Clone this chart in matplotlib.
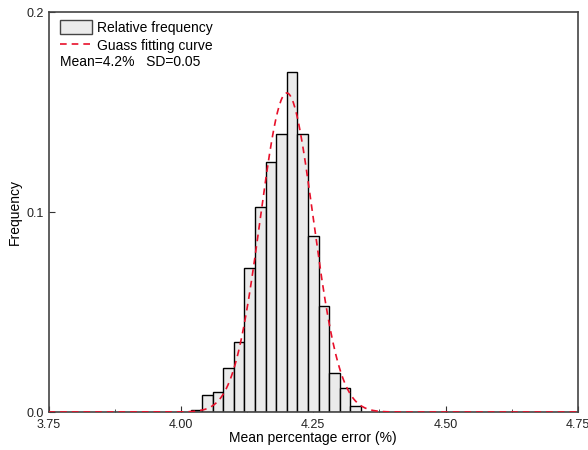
import numpy as np
import matplotlib
matplotlib.use("Agg")
import matplotlib.pyplot as plt
from matplotlib.patches import Patch
from matplotlib.lines import Line2D
from matplotlib.ticker import MultipleLocator

plt.rcParams['font.family'] = ['Liberation Sans', 'DejaVu Sans']

# Histogram data (relative frequency), bin edges 4.02 .. 4.34, width 0.02
bin_left = [4.02, 4.04, 4.06, 4.08, 4.10, 4.12, 4.14, 4.16,
            4.18, 4.20, 4.22, 4.24, 4.26, 4.28, 4.30, 4.32]
rel_freq = [0.001, 0.0087, 0.0099, 0.0219, 0.0349, 0.072, 0.1023, 0.125,
            0.139, 0.170, 0.139, 0.0882, 0.053, 0.0197, 0.0119, 0.0032]
bin_width = 0.02

# Gaussian fit parameters (from legend)
fit_mean = 4.2
fit_sd = 0.05

fig = plt.figure(figsize=(5.88, 4.5), dpi=100)
ax = fig.add_axes([0.0825, 0.0844, 0.9005, 0.8886])

ax.bar(bin_left, rel_freq, width=bin_width, align='edge',
       facecolor='#ebebeb', edgecolor='black', linewidth=1.0, zorder=2)

xs = np.linspace(3.75, 4.75, 600)
ys = bin_width / (fit_sd * np.sqrt(2 * np.pi)) * np.exp(-(xs - fit_mean) ** 2 / (2 * fit_sd ** 2))
ax.plot(xs, ys, color='#e8102a', linestyle=(0, (4, 3)), linewidth=1.2, zorder=3)

ax.set_xlim(3.75, 4.75)
ax.set_ylim(0, 0.2)
ax.set_xticks([3.75, 4.00, 4.25, 4.50, 4.75])
ax.set_xticklabels(['3.75', '4.00', '4.25', '4.50', '4.75'])
ax.xaxis.set_minor_locator(MultipleLocator(0.125))
ax.set_yticks([0.0, 0.1, 0.2])
ax.set_yticklabels(['0.0', '0.1', '0.2'])
ax.tick_params(axis='both', which='both', direction='in', labelsize=9,
               color='#333333', labelcolor='#222222')
ax.tick_params(axis='both', which='major', length=4)
ax.tick_params(axis='x', which='major', pad=5)
ax.tick_params(axis='y', which='major', pad=3)
ax.tick_params(axis='x', which='minor', length=2.5)
for s in ax.spines.values():
    s.set_color('#444444')
    s.set_linewidth(1.2)

ax.set_xlabel('Mean percentage error (%)', fontsize=10, labelpad=0)
ax.set_ylabel('Frequency', fontsize=10, labelpad=4)

handles = [Patch(facecolor='#ebebeb', edgecolor='#444444', linewidth=1.0),
           Line2D([0], [0], color='#e8102a', linestyle=(0, (4, 3)), linewidth=1.2)]
ax.legend(handles, ['Relative frequency', 'Guass fitting curve'],
          loc='upper left', frameon=False, fontsize=10,
          handlelength=2.3, handleheight=1.2, handletextpad=0.35,
          labelspacing=0.25, borderaxespad=0.0, bbox_to_anchor=(0.012, 0.995))
ax.text(0.022, 0.875, 'Mean=4.2%   SD=0.05', transform=ax.transAxes,
        fontsize=10, va='center', ha='left')

fig.savefig('out.png', dpi=100)
